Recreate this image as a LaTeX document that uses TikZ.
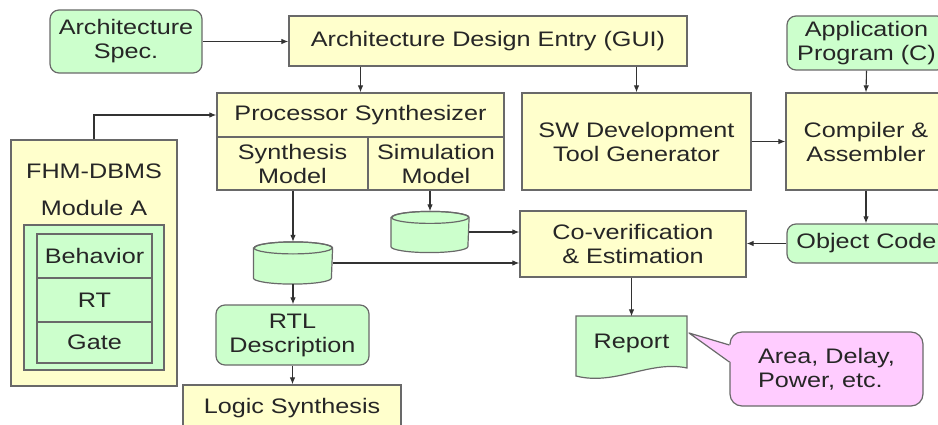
\documentclass[tikz,border=0pt]{standalone}
\usepackage{fontspec}
\setmainfont{Liberation Sans}[FakeStretch=1.2]
\usetikzlibrary{arrows.meta,calc}

\definecolor{boxyellow}{RGB}{255,255,204}
\definecolor{boxgreen}{RGB}{204,255,204}
\definecolor{boxpink}{RGB}{255,204,255}
\definecolor{edgegray}{RGB}{105,105,105}
\definecolor{linegray}{RGB}{50,50,50}

\tikzset{
  base/.style={draw=edgegray, line width=1.2pt, align=center, inner sep=0pt,
    text=black!85, font=\fontsize{21}{24}\selectfont},
  txt/.style={base, draw=none},
  ybox/.style={base, fill=boxyellow},
  gbox/.style={base, fill=boxgreen, rounded corners=9pt},
  tbox/.style={base, fill=boxgreen},
  dbnode/.style={base, draw=none},
  dbline/.style={fill=boxgreen, draw=edgegray, line width=1.2pt},
  arr/.style={draw=linegray, line width=1.1pt, -{Latex[length=7pt,width=5.5pt]}},
}

\begin{document}
\begin{tikzpicture}[x=1pt,y=-1pt]
  \useasboundingbox (0,0) rectangle (938,425);
  \clip (0,0) rectangle (938,425);

  % top row
  \node[gbox, minimum width=152, minimum height=63] (spec) at (126,41.5) {Architecture\\Spec.};
  \node[ybox, minimum width=398, minimum height=50] (ade) at (488,41) {Architecture Design Entry (GUI)};
  \node[gbox, minimum width=159, minimum height=54] (app) at (866.5,43) {Application\\Program (C)};

  % processor synthesizer
  \node[ybox, minimum width=287, minimum height=44] (proct) at (360.5,115) {Processor Synthesizer};
  \node[ybox, minimum width=151, minimum height=53] (synth) at (292.5,163.5) {Synthesis\\Model};
  \node[ybox, minimum width=136, minimum height=53] (sim) at (436,163.5) {Simulation\\Model};

  \node[ybox, minimum width=229, minimum height=97] (swdev) at (636.5,141.5) {SW Development\\Tool Generator};
  \node[ybox, minimum width=160, minimum height=97] (comp) at (866,141.5) {Compiler \&\\Assembler};
  \node[gbox, minimum width=159, minimum height=39] (objcode) at (866.5,243.5) {Object Code};
  \node[ybox, minimum width=226, minimum height=66] (coverif) at (633,244) {Co-verification\\\& Estimation};

  % databases
  \node[dbnode, minimum width=77, minimum height=40] (db1) at (430,232) {};
  \filldraw[dbline] ($(db1.north west)+(0,6)$) -- ($(db1.south west)+(0,-6)$)
    arc[start angle=180, end angle=0, x radius=38.5, y radius=6]
    -- ($(db1.north east)+(0,6)$) arc[start angle=360, end angle=180, x radius=38.5, y radius=6] -- cycle;
  \draw[edgegray, line width=1.2pt] ($(db1.north)+(0,6)$) ellipse[x radius=38.5, y radius=6];
  \node[dbnode, minimum width=78, minimum height=41] (db2) at (293,263) {};
  \filldraw[dbline] ($(db2.north west)+(0,6)$) -- ($(db2.south west)+(0,-6)$)
    arc[start angle=180, end angle=0, x radius=39, y radius=6]
    -- ($(db2.north east)+(0,6)$) arc[start angle=360, end angle=180, x radius=39, y radius=6] -- cycle;
  \draw[edgegray, line width=1.2pt] ($(db2.north)+(0,6)$) ellipse[x radius=39, y radius=6];

  \node[gbox, minimum width=153, minimum height=60] (rtl) at (292.5,335) {RTL\\Description};
  \node[ybox, minimum width=218, minimum height=46] (logic) at (292,408) {Logic Synthesis};

  % FHM-DBMS
  \node[ybox, minimum width=166, minimum height=246] (fhm) at (94,263) {};
  \node[txt] (fhmname) at (94,171) {FHM-DBMS};
  \node[txt] (moda) at (94,208) {Module A};
  \node[tbox, minimum width=140, minimum height=145] (modbox) at (94,297.5) {};
  \node[tbox, minimum width=115, minimum height=44] (behav) at (94.5,256) {Behavior};
  \node[tbox, minimum width=115, minimum height=44] (rt) at (94.5,300) {RT};
  \node[tbox, minimum width=115, minimum height=41] (gate) at (94.5,342.5) {Gate};

  % report and note
  \filldraw[fill=boxgreen, draw=edgegray, line width=1.2pt]
    (576,316) -- (687,316) -- (687,368) .. controls (650,360) and (615,386) .. (576,376) -- cycle;
  \node[txt, minimum width=111, minimum height=52] (report) at (631.5,343) {Report};
  \node[base, fill=boxpink, rounded corners=12pt, minimum width=193, minimum height=74,
    align=left] (area) at (826.5,369) {Area, Delay,\\Power, etc.};
  \coordinate (tip) at (689,333);
  \fill[boxpink] (tip) -- ($(area.west)+(1.5,-24)$) -- ($(area.west)+(1.5,-7)$) -- cycle;
  \draw[edgegray, line width=1.2pt, line join=round]
    ($(area.west)+(0,-24)$) -- (tip) -- ($(area.west)+(0,-7)$);

  % connectors
  \draw[arr] (spec.east) -- (spec.east -| ade.west);
  \draw[arr] (ade.south -| proct.north) -- (proct.north);
  \draw[arr] (ade.south -| swdev.north) -- (swdev.north);
  \draw[arr] (app.south) -- (comp.north);
  \draw[arr] (swdev.east) -- (comp.west);
  \draw[arr] (comp.south) -- (comp.south |- objcode.north);
  \draw[arr] (objcode.west) -- (objcode.west -| coverif.east);
  \draw[arr] (sim.south -| db1.north) -- (db1.north);
  \draw[arr] (synth.south -| db2.north) -- (db2.north);
  \draw[arr] (db1.east) -- (db1.east -| coverif.west);
  \draw[arr] (db2.east) -- (db2.east -| coverif.west);
  \draw[arr] (db2.south) -- (db2.south |- rtl.north);
  \draw[arr] (rtl.south) -- (rtl.south |- logic.north);
  \draw[arr] (coverif.south -| report.north) -- (report.north);
  \draw[arr] (fhm.north) |- (proct.west);
\end{tikzpicture}
\end{document}
